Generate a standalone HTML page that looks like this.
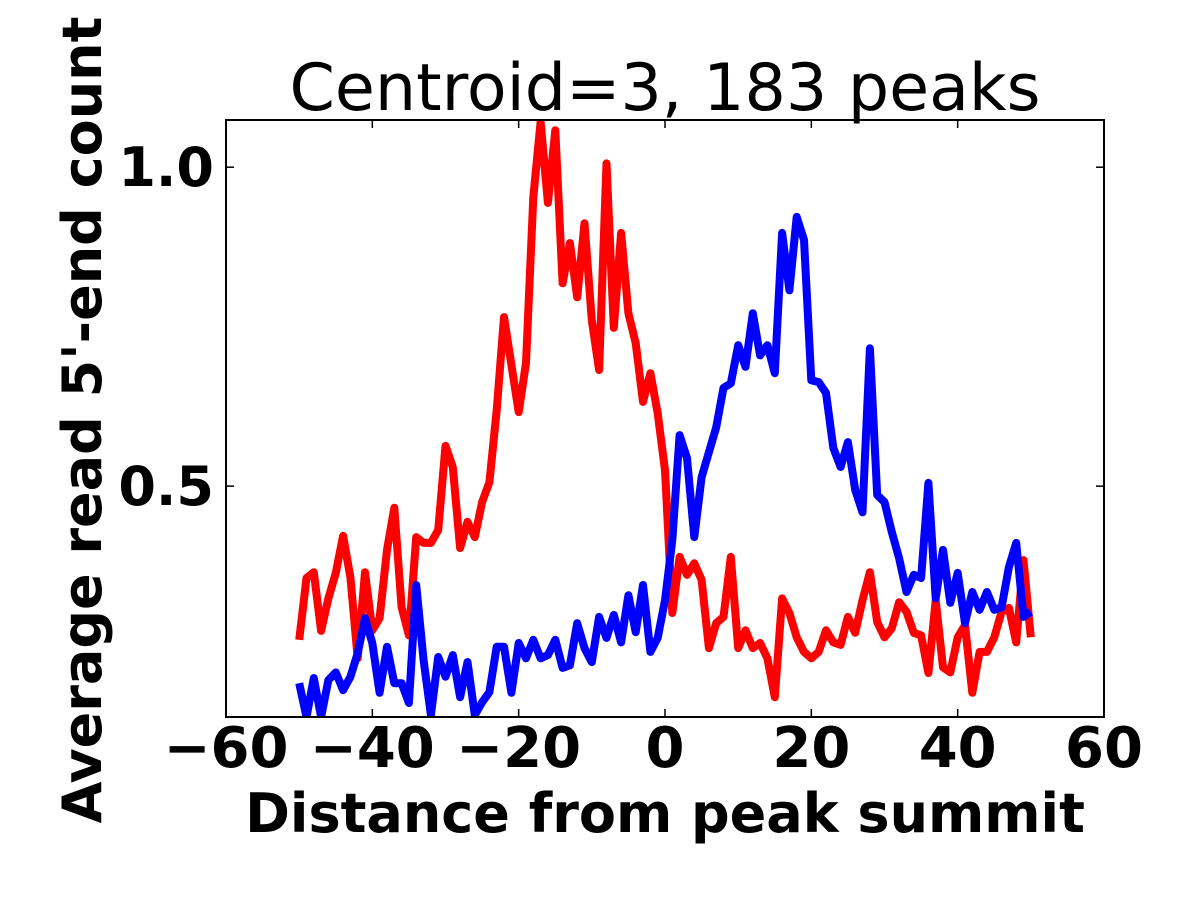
<!DOCTYPE html>
<html><head><meta charset="utf-8"><style>
html,body{margin:0;padding:0;background:#fff;}
svg{display:block;font-family:"DejaVu Sans","Liberation Sans",sans-serif;}
</style></head><body>
<svg id="chart" width="1200" height="900" viewBox="0 0 1200 900">
<defs><clipPath id="plotclip"><rect x="226" y="120" width="878" height="597"/></clipPath></defs>
<rect x="0" y="0" width="1200" height="900" fill="#fff"/>
<text x="665" y="110" text-anchor="middle" font-size="65" fill="#000">Centroid=3, 183 peaks</text>
<g id="series" clip-path="url(#plotclip)"></g>
<rect x="226" y="120" width="878" height="597" fill="none" stroke="#000" stroke-width="2"/>
<g id="xticks"></g>
<g id="yticks"></g>
<text x="665" y="832" text-anchor="middle" font-size="54" font-weight="bold">Distance from peak summit</text>
<text transform="translate(101,420) rotate(-90)" text-anchor="middle" font-size="54" font-weight="bold">Average read 5'-end count</text>
</svg>
<script>
const xStart = -50;
const redValues = [0.259,0.356,0.365,0.273,0.324,0.364,0.422,0.357,0.230,0.365,0.274,0.293,0.400,0.466,0.310,0.266,0.420,0.411,0.411,0.431,0.563,0.530,0.403,0.444,0.420,0.475,0.506,0.619,0.765,0.690,0.616,0.693,0.953,1.071,0.944,1.058,0.818,0.881,0.796,0.912,0.760,0.682,1.006,0.748,0.897,0.771,0.724,0.632,0.677,0.614,0.525,
0.301,0.389,0.361,0.379,0.353,0.246,0.285,0.295,0.389,0.246,0.274,0.246,0.254,0.230,0.169,0.324,0.301,0.263,0.240,0.230,0.240,0.274,0.255,0.251,0.295,0.270,0.321,0.365,0.287,0.263,0.277,0.318,0.303,0.270,0.266,0.207,0.321,0.216,0.208,0.263,0.282,0.176,0.240,0.240,0.263,0.303,0.309,0.255,0.384,0.263];
const blueValues = [0.191,0.138,0.199,0.138,0.196,0.208,0.180,0.201,0.238,0.293,0.254,0.176,0.248,0.191,0.191,0.160,0.345,0.227,0.141,0.232,0.201,0.235,0.169,0.224,0.141,0.161,0.177,0.248,0.248,0.176,0.254,0.230,0.259,0.230,0.235,0.259,0.215,0.219,0.285,0.246,0.224,0.295,0.262,0.298,0.255,0.329,0.271,0.345,0.240,0.262,0.321,
0.415,0.580,0.544,0.420,0.514,0.553,0.592,0.654,0.661,0.721,0.687,0.771,0.705,0.721,0.677,0.897,0.807,0.922,0.886,0.666,0.663,0.646,0.560,0.530,0.569,0.494,0.459,0.716,0.486,0.475,0.428,0.387,0.334,0.361,0.356,0.505,0.324,0.400,0.317,0.364,0.285,0.334,0.306,0.334,0.306,0.310,0.373,0.411,0.295,0.303];
const xTicks = [-60,-40,-20,0,20,40,60];
const xTickLabels = ["\u221260","\u221240","\u221220","0","20","40","60"];
const yTicks = [0.5,1.0];
const yTickLabels = ["0.5","1.0"];

const NS = "http://www.w3.org/2000/svg";
const xMin=-60,xMax=60,yMin=0.138,yMax=1.074;
const L=226,R=1104,T=120,B=717;
function xs(v){return L+(v-xMin)/(xMax-xMin)*(R-L);}
function ys(v){return B-(v-yMin)/(yMax-yMin)*(B-T);}

const sg=document.getElementById('series');
function drawLine(vals,color,name){
  const p=document.createElementNS(NS,'polyline');
  p.setAttribute('points',vals.map((v,i)=>xs(xStart+i).toFixed(1)+','+ys(v).toFixed(1)).join(' '));
  p.setAttribute('fill','none');p.setAttribute('stroke',color);p.setAttribute('stroke-width','8');
  p.setAttribute('stroke-linejoin','round');
  
  
  sg.appendChild(p);
}
drawLine(redValues,'#ff0000','red-series-line');
drawLine(blueValues,'#0000ff','blue-series-line');

const xg=document.getElementById('xticks');
xTicks.forEach((t,i)=>{
  const x=xs(t);
  [[B,B-8],[T,T+8]].forEach(([a,b])=>{
    const l=document.createElementNS(NS,'line');
    l.setAttribute('x1',x);l.setAttribute('x2',x);l.setAttribute('y1',a);l.setAttribute('y2',b);
    l.setAttribute('stroke','#000');l.setAttribute('stroke-width','1.5');
    
    
    xg.appendChild(l);
  });
  const tx=document.createElementNS(NS,'text');
  tx.setAttribute('x',x);tx.setAttribute('y',767);tx.setAttribute('text-anchor','middle');
  tx.setAttribute('font-size','56');tx.setAttribute('font-weight','bold');
  tx.textContent=xTickLabels[i];
  
  
  xg.appendChild(tx);
});
const yg=document.getElementById('yticks');
yTicks.forEach((t,i)=>{
  const y=ys(t);
  [[L,L+8],[R,R-8]].forEach(([a,b])=>{
    const l=document.createElementNS(NS,'line');
    l.setAttribute('x1',a);l.setAttribute('x2',b);l.setAttribute('y1',y);l.setAttribute('y2',y);
    l.setAttribute('stroke','#000');l.setAttribute('stroke-width','1.5');
    
    
    yg.appendChild(l);
  });
  const tx=document.createElementNS(NS,'text');
  tx.setAttribute('x',214);tx.setAttribute('y',y+19);tx.setAttribute('text-anchor','end');
  tx.setAttribute('font-size','54');tx.setAttribute('font-weight','bold');
  tx.textContent=yTickLabels[i];
  
  
  yg.appendChild(tx);
});
</script>
</body></html>
